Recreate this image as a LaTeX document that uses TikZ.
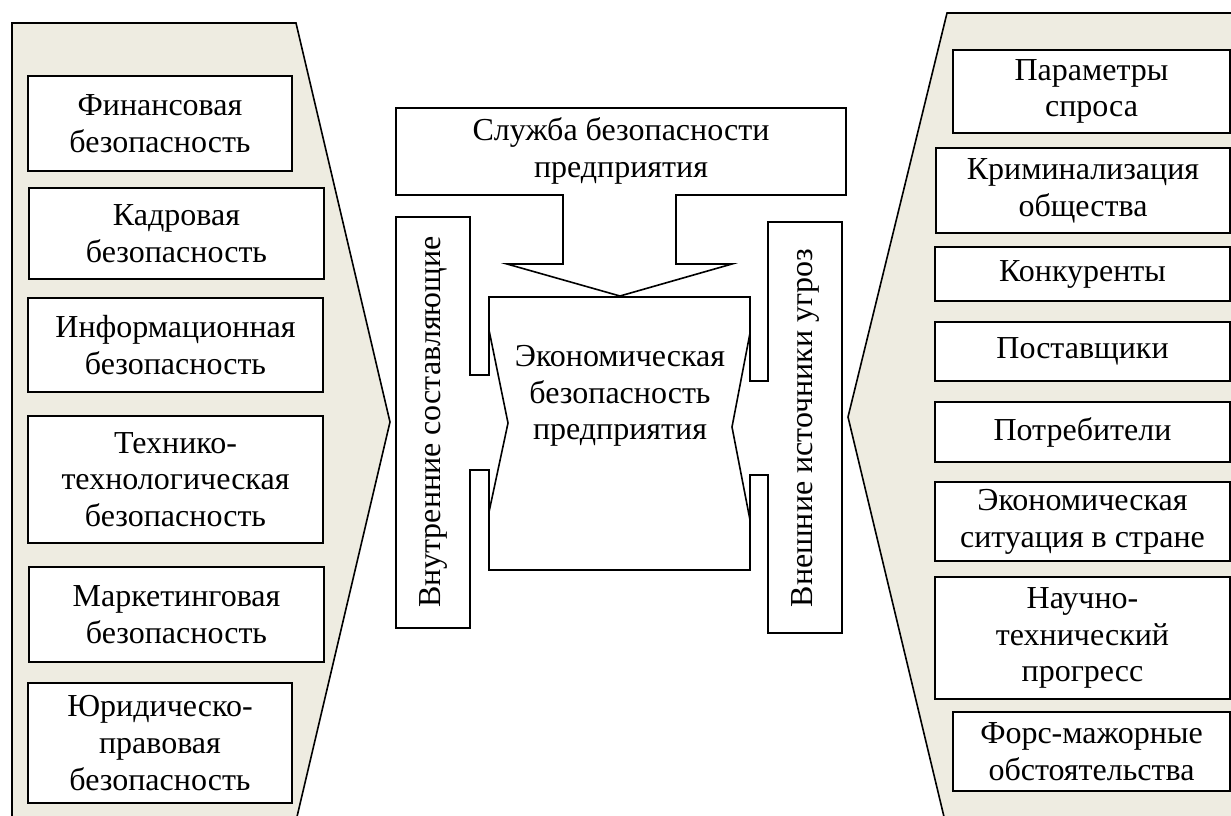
\documentclass[tikz,border=0pt]{standalone}
\usepackage{fontspec}
\setmainfont{Liberation Serif}
\usepackage{xcolor}
\usetikzlibrary{positioning}
\definecolor{panelfill}{HTML}{EEECE1}

\begin{document}
\begin{tikzpicture}[
    x=0.5pt, y=-0.5pt,
    font=\fontsize{16pt}{18.4pt}\selectfont,
    panel/.style={draw, line width=0.8pt, fill=panelfill},
    block/.style={draw, line width=0.8pt, fill=white},
    part/.style={draw, line width=1pt, fill=white, align=center, inner sep=1pt},
    threat/.style={draw, line width=1pt, fill=white, align=center, inner sep=1pt}
]
\useasboundingbox (0,0) rectangle (1231,815);
\clip (0,0) rectangle (1231,815);

% side panels
\draw[panel] (12,23) -- (296,23) -- (390,422) -- (296,821) -- (12,821) -- cycle;
\draw[panel] (947,13) -- (1240,13) -- (1240,821) -- (945,821) -- (848,417) -- cycle;

% internal components
\node[part, minimum width=132pt, minimum height=47.5pt] (fin) at (160,123.5) {Финансовая\\безопасность};
\node[part, minimum width=147.5pt, minimum height=45.5pt] (staff) at (176.5,233.5) {Кадровая\\безопасность};
\node[part, minimum width=147.5pt, minimum height=47pt] (info) at (175.5,345) {Информационная\\безопасность};
\node[part, minimum width=147.5pt, minimum height=63.5pt] (tech) at (175.5,479.5) {Технико-\\технологическая\\безопасность};
\node[part, minimum width=147.5pt, minimum height=47.5pt] (mark) at (176.5,614.5) {Маркетинговая\\безопасность};
\node[part, minimum width=132pt, minimum height=60pt] (law) at (160,743) {Юридическо-\\правовая\\безопасность};

% external threats
\node[threat, minimum width=138.5pt, minimum height=41.5pt] (demand) at (1091.5,91.5) {Параметры\\спроса};
\node[threat, minimum width=147pt, minimum height=42.5pt] (crime) at (1083,190.5) {Криминализация\\общества};
\node[threat, minimum width=147.5pt, minimum height=27pt] (rivals) at (1082.5,274) {Конкуренты};
\node[threat, minimum width=147.5pt, minimum height=29.5pt] (suppl) at (1082.5,351.5) {Поставщики};
\node[threat, minimum width=147.5pt, minimum height=30pt] (cons) at (1082.5,432) {Потребители};
\node[threat, minimum width=147.5pt, minimum height=39.5pt] (econsit) at (1082.5,521.5) {Экономическая\\ситуация в стране};
\node[threat, minimum width=147.5pt, minimum height=61pt] (progress) at (1082.5,638) {Научно-\\технический\\прогресс};
\node[threat, minimum width=138.5pt, minimum height=39.5pt] (force) at (1091.5,751.5) {Форс-мажорные\\обстоятельства};

% security service arrow
\draw[block] (396,108) -- (846,108) -- (846,195) -- (676,195) -- (676,264) -- (732,264)
    -- (620,296) -- (507,264) -- (563,264) -- (563,195) -- (396,195) -- cycle;
\node[align=center] (service) at (621,151) {Служба безопасности\\предприятия};

% centre with side arrows
\draw[block] (396,217) -- (470,217) -- (470,375) -- (489,375) -- (489,297) -- (750,297)
    -- (750,381) -- (768,381) -- (768,222) -- (842,222) -- (842,633) -- (768,633)
    -- (768,475) -- (750,475) -- (750,570) -- (489,570) -- (489,470) -- (470,470)
    -- (470,628) -- (396,628) -- cycle;
\draw[line width=0.8pt] (489,330) -- (508,423) -- (489,512);
\draw[line width=0.8pt] (750,333) -- (732,427) -- (750,520);
\node[align=center] (econ) at (620,396) {Экономическая\\безопасность\\предприятия};
\node[rotate=90] (inner) at (433,422) {Внутренние составляющие};
\node[rotate=90] (outer) at (805,428) {Внешние источники угроз};
\end{tikzpicture}
\end{document}
